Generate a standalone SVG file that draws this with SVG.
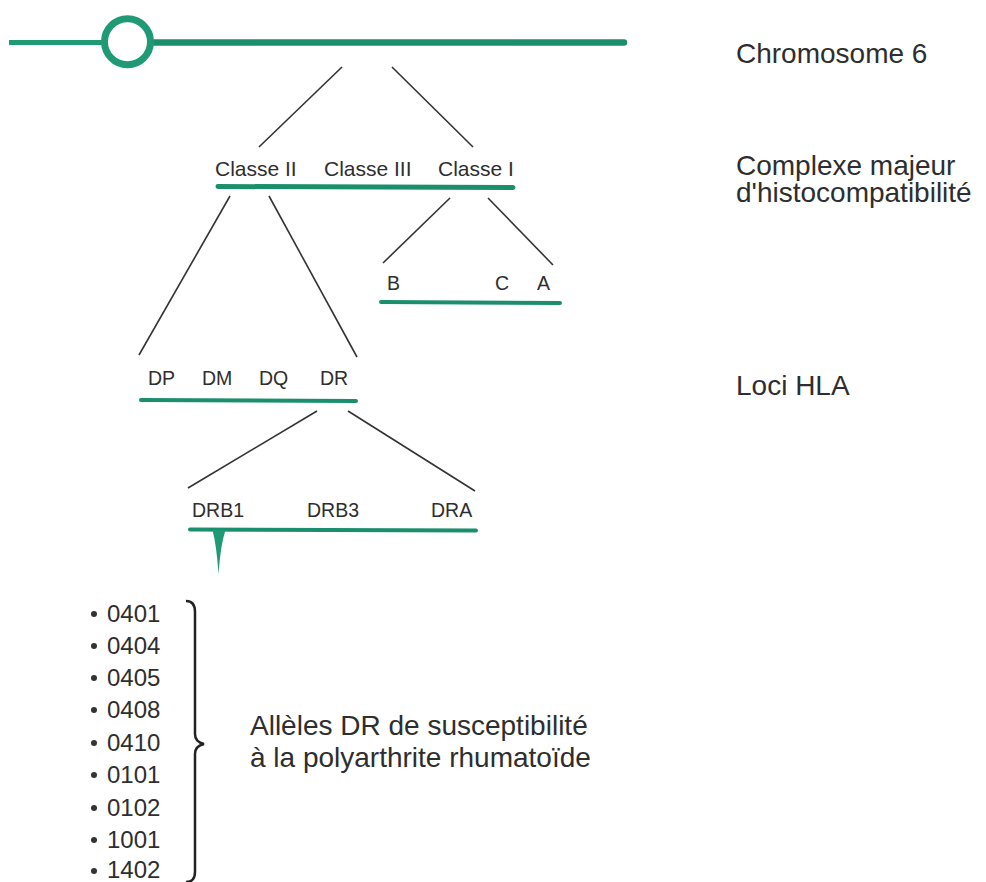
<svg xmlns="http://www.w3.org/2000/svg" width="986" height="882" viewBox="0 0 986 882">
<style>
text{font-family:"Liberation Sans","DejaVu Sans",sans-serif;fill:#2e2e2e}
.lbl{font-size:28px}
.cls{font-size:21px}
.loc{font-size:19.5px}
.num{font-size:24px}
.bar{stroke:#1b8f6c;stroke-width:5;stroke-linecap:round;fill:none}
.con{stroke:#333;stroke-width:1.6;fill:none}
.g{fill:#1f9a74}
.dot{fill:#333}
</style>
<rect width="986" height="882" fill="#fff"/>
<g id="chromosome">
<line x1="9" y1="42.5" x2="104" y2="42.5" stroke="#1f9a74" stroke-width="5"/>
<line x1="152" y1="42.5" x2="624" y2="42.5" stroke="#1b8f6c" stroke-width="6.5" stroke-linecap="round"/>
<circle cx="127.5" cy="41.7" r="23" fill="#fff" stroke="#1f9a74" stroke-width="7"/>
</g>
<g id="connectors">
<line class="con" x1="342" y1="67" x2="259" y2="147"/>
<line class="con" x1="392" y1="67" x2="473" y2="147"/>
<line class="con" x1="230" y1="196" x2="139" y2="355"/>
<line class="con" x1="269" y1="196" x2="357" y2="357"/>
<line class="con" x1="450" y1="198" x2="383" y2="263"/>
<line class="con" x1="488" y1="198" x2="553" y2="265"/>
<line class="con" x1="317" y1="411" x2="188" y2="488"/>
<line class="con" x1="348" y1="411" x2="475" y2="491"/>
</g>
<g id="mhc">
<text class="cls" x="215" y="176">Classe II</text>
<text class="cls" x="324" y="176">Classe III</text>
<text class="cls" x="438" y="176">Classe I</text>
<line class="bar" x1="218" y1="186.5" x2="513" y2="187.5"/>
</g>
<g id="class1">
<text class="loc" x="387" y="290">B</text>
<text class="loc" x="495" y="290">C</text>
<text class="loc" x="537" y="290">A</text>
<line class="bar" x1="381" y1="302" x2="560" y2="303" style="stroke-width:4"/>
</g>
<g id="class2">
<text class="loc" x="148" y="385">DP</text>
<text class="loc" x="202" y="385">DM</text>
<text class="loc" x="259" y="385">DQ</text>
<text class="loc" x="320" y="385">DR</text>
<line class="bar" x1="141" y1="400" x2="356" y2="401" style="stroke-width:4"/>
</g>
<g id="dr">
<text class="loc" x="192" y="517">DRB1</text>
<text class="loc" x="307" y="517">DRB3</text>
<text class="loc" x="431" y="517">DRA</text>
<line class="bar" x1="190" y1="529.5" x2="476" y2="530.5" style="stroke-width:4"/>
<path class="g" d="M212.5,530 L225.5,530 Q220.5,545 218.5,574 Q216.5,545 212.5,530 Z"/>
</g>
<g id="alleles">
<circle class="dot" cx="94" cy="614" r="3"/>
<circle class="dot" cx="94" cy="646" r="3"/>
<circle class="dot" cx="94" cy="678" r="3"/>
<circle class="dot" cx="94" cy="710" r="3"/>
<circle class="dot" cx="94" cy="743" r="3"/>
<circle class="dot" cx="94" cy="775" r="3"/>
<circle class="dot" cx="94" cy="808" r="3"/>
<circle class="dot" cx="94" cy="840" r="3"/>
<circle class="dot" cx="94" cy="871" r="3"/>
<text class="num" x="107" y="622">0401</text>
<text class="num" x="107" y="654">0404</text>
<text class="num" x="107" y="686">0405</text>
<text class="num" x="107" y="718">0408</text>
<text class="num" x="107" y="751">0410</text>
<text class="num" x="107" y="783">0101</text>
<text class="num" x="107" y="816">0102</text>
<text class="num" x="107" y="848">1001</text>
<text class="num" x="107" y="878">1402</text>
<path d="M186,601 Q195,601 195,612 L195,734 Q195,742 204,744 Q195,746 195,754 L195,872 Q195,882 186,882" fill="none" stroke="#222" stroke-width="2.5"/>
<text class="lbl" x="250" y="735">Allèles DR de susceptibilité</text>
<text class="lbl" x="250" y="767">à la polyarthrite rhumatoïde</text>
</g>
<g id="labels">
<text class="lbl" x="736" y="63">Chromosome 6</text>
<text class="lbl" x="736" y="175">Complexe majeur</text>
<text class="lbl" x="736" y="202">d'histocompatibilité</text>
<text class="lbl" x="736" y="395">Loci HLA</text>
</g>
</svg>
